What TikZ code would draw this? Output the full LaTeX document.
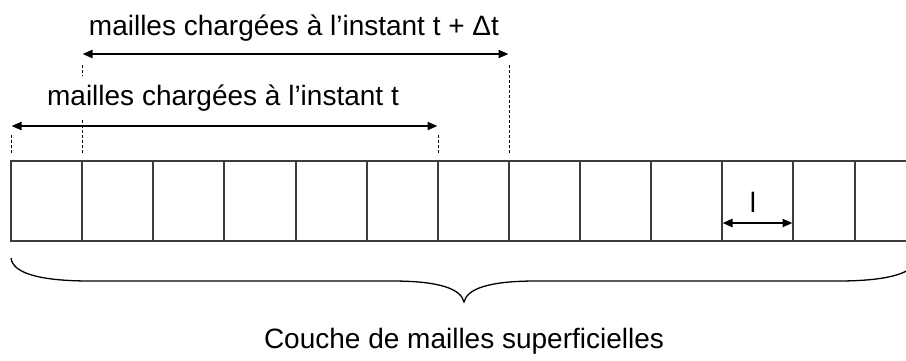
\documentclass[tikz,border=0pt]{standalone}
\usepackage{fontspec}
\setmainfont{Liberation Sans}
\usepackage{xcolor}
\usepackage{tikz}
\usetikzlibrary{arrows.meta, positioning, calc}
\definecolor{celldraw}{HTML}{3C3C3C}
\definecolor{dimdraw}{HTML}{000000}
\tikzset{
  cell/.style={draw=celldraw, line width=1.3pt},
  lbl/.style={font=\fontsize{28}{34}\selectfont, inner sep=0pt, anchor=base},
  title/.style={lbl, fill=white, inner ysep=8pt, inner xsep=2pt},
  dim/.style={<->, >={Triangle[length=10pt, width=8pt]}, line width=2pt, draw=dimdraw, shorten <=0.5pt, shorten >=0.5pt},
  guide/.style={draw=dimdraw, line width=1pt, dash pattern=on 3pt off 2pt},
  brace/.style={draw=black, line width=1.3pt},
}

\begin{document}
\begin{tikzpicture}[x=1pt, y=-1pt]
  \clip (0,0) rectangle (906,360);
  \foreach \x [count=\i] in {11,82,153,224,296,367,438,509,580,651,722,793,855}
    \coordinate (c\i) at (\x,161);
  \coordinate (cend) at (930,161);
  \draw[cell] (c1) -- (cend) -- ++(0,80) -- ($(c1)+(0,80)$) -- cycle;
  \foreach \i in {2,...,13}
    \draw[cell] (c\i) -- ++(0,80);

  \draw[guide] ([yshift=8pt]c1) -- ([yshift=27pt]c1);
  \draw[guide] ([yshift=8pt]c7) -- ([yshift=27pt]c7);
  \draw[guide] ([yshift=8pt]c2) -- ([yshift=96pt]c2);
  \draw[guide] ([yshift=8pt]c8) -- ([yshift=96pt]c8);
  \node[title] (tnow) at (223,105) {mailles chargées à l’instant t};
  \node[title] (tnext) at (294,35.5) {mailles chargées à l’instant t + Δt};
  \draw[dim] ([yshift=35pt]c1) -- ([yshift=35pt]c7);
  \draw[dim] ([yshift=107pt]c2) -- ([yshift=107pt]c8);

  \draw[dim] ([yshift=-62pt]c11) -- ([yshift=-62pt]c12);
  \node[lbl] (len) at (753,212) {l};

  \coordinate (bl) at (11,258);
  \coordinate (tip) at (464,302);
  \coordinate (br) at (917,258);
  \draw[brace] (bl) .. controls (13,276) and (50,281) .. (90,281) -- (392,281)
    .. controls (440,281) and (461,289) .. (tip)
    .. controls (467,289) and (488,281) .. (536,281) -- (838,281)
    .. controls (878,281) and (915,276) .. (br);
  \node[lbl] (layer) at (464,348) {Couche de mailles superficielles};
\end{tikzpicture}
\end{document}
